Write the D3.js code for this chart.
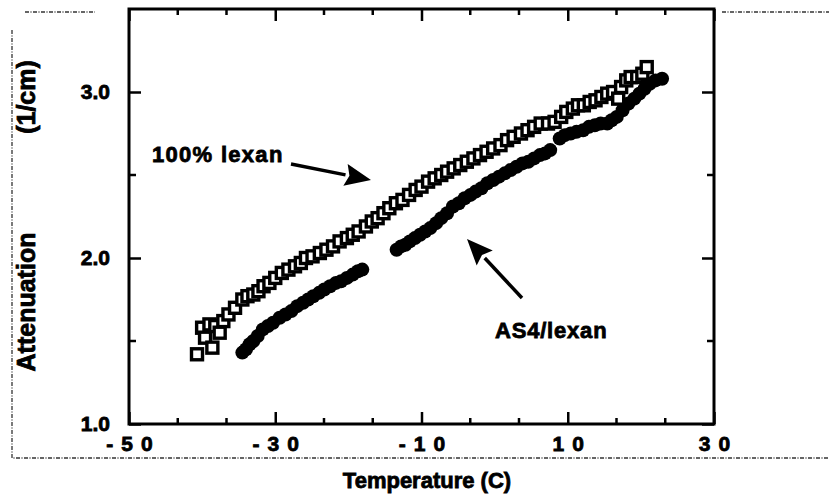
<!DOCTYPE html>
<meta charset="utf-8">
<style>
body { margin: 0; background: #fff; }
text { font-family: "Liberation Sans", Arial, Helvetica, sans-serif; font-weight: bold; fill: #000; stroke: #000; stroke-width: 0.8px; }
.axis text { font-size: 21px; }
.axis line { stroke: #000; stroke-width: 2.5; }
.scan { stroke: #333; stroke-width: 1.3; fill: none; stroke-dasharray: 4,1.5,1,1.5; }
</style>
<svg width="829" height="500"></svg>
<script src="https://d3js.org/d3.v7.min.js"></script>
<script>

// 100% lexan (open squares): temperature (C), attenuation (1/cm)
var lexanT = [-40.7, -40.0, -39.6, -39.0, -38.6, -38.2, -37.6, -37.1, -36.4, -35.5,
  -34.5, -33.8, -33.0, -32.3, -31.6, -30.8, -30.0, -29.1, -28.2, -27.3,
  -26.5, -25.8, -24.9, -23.9, -23.0, -22.1, -21.2, -20.2, -19.4, -18.6,
  -17.6, -16.8, -16.0, -15.2, -14.4, -13.5, -12.6, -11.7, -10.8, -10.0,
  -9.1, -8.2, -7.3, -6.5, -5.6, -4.7, -3.8, -2.9, -2.0, -1.1,
  -0.2, 0.8, 1.7, 2.6, 3.6, 4.5, 5.4, 6.3, 7.3, 8.2,
  9.1, 9.8, 10.7, 11.4, 12.2, 13.0, 13.8, 14.6, 15.4, 16.2,
  16.9, 17.3, 18.0, 18.6, 19.5, 20.2, 20.8];
var lexanA = [1.42, 1.58, 1.52, 1.60, 1.46, 1.59, 1.55, 1.62, 1.66, 1.70,
  1.75, 1.77, 1.78, 1.80, 1.83, 1.85, 1.88, 1.91, 1.93, 1.95,
  1.97, 2.00, 2.01, 2.03, 2.05, 2.07, 2.10, 2.12, 2.14, 2.16,
  2.19, 2.22, 2.24, 2.27, 2.30, 2.33, 2.35, 2.38, 2.41, 2.43,
  2.46, 2.48, 2.50, 2.52, 2.54, 2.56, 2.58, 2.60, 2.62, 2.64,
  2.66, 2.68, 2.71, 2.73, 2.75, 2.77, 2.79, 2.81, 2.81, 2.82,
  2.85, 2.88, 2.90, 2.92, 2.92, 2.94, 2.95, 2.97, 2.99, 3.00,
  2.96, 3.03, 3.07, 3.09, 3.09, 3.11, 3.15];

// AS4/lexan (filled circles)
var as4T = [-34.5, -34.0, -33.5, -33.0, -32.4, -31.7, -31.0, -30.3, -29.4, -28.6,
  -27.8, -27.0, -26.2, -25.5, -24.8, -24.0, -23.3, -22.5, -21.7, -21.0,
  -20.2, -19.4, -18.7, -18.1,
  -13.4, -12.8, -12.2, -11.6, -10.9, -10.2, -9.5, -8.8, -8.0, -7.3,
  -6.5, -5.7, -4.9, -4.1, -3.3, -2.6, -1.8, -1.0, -0.2, 0.6,
  1.4, 2.2, 3.0, 3.8, 4.6, 5.4, 6.2, 6.9, 7.6,
  8.9, 9.6, 10.4, 11.2, 12.1, 12.9, 13.7, 14.5, 15.4, 16.0,
  16.7, 17.5, 18.3, 19.1, 19.8, 20.5, 21.2, 22.0, 22.9];
var as4A = [1.43, 1.45, 1.48, 1.50, 1.53, 1.57, 1.59, 1.61, 1.64, 1.66,
  1.68, 1.71, 1.73, 1.75, 1.77, 1.79, 1.81, 1.83, 1.85, 1.86,
  1.88, 1.90, 1.92, 1.93,
  2.05, 2.07, 2.08, 2.10, 2.12, 2.14, 2.16, 2.18, 2.21, 2.24,
  2.27, 2.31, 2.33, 2.36, 2.38, 2.40, 2.42, 2.45, 2.47, 2.49,
  2.51, 2.53, 2.55, 2.57, 2.58, 2.60, 2.62, 2.63, 2.65,
  2.72, 2.74, 2.75, 2.76, 2.77, 2.79, 2.80, 2.81, 2.81, 2.83,
  2.85, 2.89, 2.93, 2.96, 2.99, 3.02, 3.05, 3.07, 3.08];

var xMajor = [-50, -30, -10, 10, 30];
var yMajor = [1, 2, 3];
var yMinor = [1.5, 2.5];

var svg = d3.select("svg"),
    pL = 129, pR = 714, pT = 9, pB = 424;

var x = d3.scaleLinear().domain([-50, 30]).range([pL, pR]),
    y = d3.scaleLinear().domain([1, 3.5]).range([pB, pT]);

var xMinor = d3.range(-50, 30, 20 / 3).filter(function(d) { return xMajor.indexOf(Math.round(d)) < 0; });

// scan frame remnants
svg.append("path").attr("class", "scan")
    .attr("d", "M12,30V458H829 M25,12H95 M722,12H829");

// data: circles under squares
svg.append("g").selectAll("circle")
    .data(d3.zip(as4T, as4A))
  .enter().append("circle")
    .attr("cx", function(d) { return x(d[0]); })
    .attr("cy", function(d) { return y(d[1]); })
    .attr("r", 7)
    .attr("fill", "#000");

svg.append("g").selectAll("rect")
    .data(d3.zip(lexanT, lexanA))
  .enter().append("rect")
    .attr("x", function(d) { return x(d[0]) - 5.5; })
    .attr("y", function(d) { return y(d[1]) - 5.5; })
    .attr("width", 11)
    .attr("height", 11)
    .attr("fill", "#fff")
    .attr("stroke", "#000")
    .attr("stroke-width", 3.4);

// frame
svg.append("rect")
    .attr("x", pL).attr("y", pT)
    .attr("width", pR - pL).attr("height", pB - pT)
    .attr("fill", "none").attr("stroke", "#000").attr("stroke-width", 3);

// axes
var ls = 8;
var gx = svg.append("g").attr("class", "axis")
    .attr("transform", "translate(0," + pB + ")")
    .call(d3.axisBottom(x).tickValues(xMajor).tickSize(-12).tickPadding(12)
      .tickFormat(function(d) { return String(d); }));
gx.selectAll("text").style("letter-spacing", ls + "px").attr("dx", ls / 2);

var gy = svg.append("g").attr("class", "axis")
    .attr("transform", "translate(" + pL + ",0)")
    .call(d3.axisLeft(y).tickValues(yMajor).tickSize(-12).tickPadding(19)
      .tickFormat(d3.format(".1f")));

[gx, gy].forEach(function(g) { g.select(".domain").remove(); });

svg.append("g").attr("class", "axis")
    .attr("transform", "translate(0," + pT + ")")
    .call(d3.axisTop(x).tickValues(xMajor).tickSize(-12).tickFormat(""))
    .select(".domain").remove();
svg.append("g").attr("class", "axis")
    .attr("transform", "translate(" + pR + ",0)")
    .call(d3.axisRight(y).tickValues(yMajor).tickSize(-12).tickFormat(""))
    .select(".domain").remove();

// minor ticks
var minor = svg.append("g").attr("stroke", "#000").attr("stroke-width", 2.5);
xMinor.forEach(function(d) {
  minor.append("line").attr("x1", x(d)).attr("x2", x(d)).attr("y1", pB).attr("y2", pB - 6);
  minor.append("line").attr("x1", x(d)).attr("x2", x(d)).attr("y1", pT).attr("y2", pT + 6);
});
yMinor.forEach(function(d) {
  minor.append("line").attr("x1", pL).attr("x2", pL + 7).attr("y1", y(d)).attr("y2", y(d));
  minor.append("line").attr("x1", pR).attr("x2", pR - 7).attr("y1", y(d)).attr("y2", y(d));
});

// axis titles
svg.append("text")
    .attr("x", 427).attr("y", 488)
    .attr("text-anchor", "middle")
    .style("font-size", "22px")
    .text("Temperature (C)");

svg.append("text")
    .attr("transform", "translate(35,302) rotate(-90)")
    .attr("text-anchor", "middle")
    .style("font-size", "25px")
    .text("Attenuation");
svg.append("text")
    .attr("transform", "translate(35,97) rotate(-90)")
    .attr("text-anchor", "middle")
    .style("font-size", "25px")
    .text("(1/cm)");

// annotations
svg.append("text")
    .attr("x", 152).attr("y", 162)
    .style("font-size", "22px").style("letter-spacing", "1.3px")
    .text("100% lexan");
svg.append("text")
    .attr("x", 495).attr("y", 338)
    .style("font-size", "22px").style("letter-spacing", "0.8px")
    .text("AS4/lexan");

function arrow(x1, y1, x2, y2) {
  var a = Math.atan2(y2 - y1, x2 - x1), len = 26, w = 11;
  var bx = x2 - len * Math.cos(a), by = y2 - len * Math.sin(a);
  svg.append("line")
      .attr("x1", x1).attr("y1", y1).attr("x2", bx).attr("y2", by)
      .attr("stroke", "#000").attr("stroke-width", 3.5);
  svg.append("path")
      .attr("d", "M" + x2 + "," + y2 +
        "L" + (bx + w * Math.sin(a)) + "," + (by - w * Math.cos(a)) +
        "L" + (bx + 4 * Math.cos(a)) + "," + (by + 4 * Math.sin(a)) +
        "L" + (bx - w * Math.sin(a)) + "," + (by + w * Math.cos(a)) + "Z")
      .attr("fill", "#000");
}
arrow(291, 164, 371, 180);
arrow(522, 298, 467, 239);

</script>
